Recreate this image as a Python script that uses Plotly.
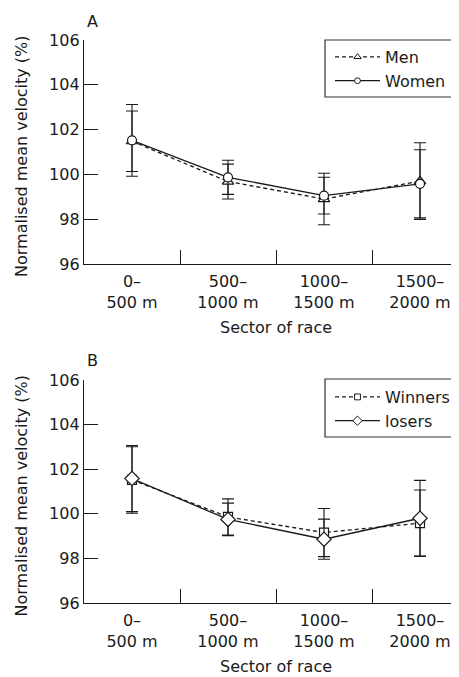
import plotly.graph_objects as go

categories = ["0–<br>500 m", "500–<br>1000 m", "1000–<br>1500 m", "1500–<br>2000 m"]
y_ticks = [96, 98, 100, 102, 104, 106]

men = [101.48, 99.68, 98.90, 99.70]
men_sd = [1.35, 0.78, 1.15, 1.71]
women = [101.52, 99.87, 99.05, 99.58]
women_sd = [1.60, 0.76, 0.82, 1.52]

winners = [101.52, 99.86, 99.16, 99.58]
winners_sd = [1.49, 0.81, 1.08, 1.49]
losers = [101.58, 99.75, 98.86, 99.80]
losers_sd = [1.48, 0.73, 0.90, 1.70]

FONT = "DejaVu Sans"
FS = 16
INK = "#1a1a1a"

OFF = 8  # page body margin
W, H = 459 - OFF, 677 - OFF
fig = go.Figure()


def add_series(name, vals, sd, symbol, dash, xa, ya, legend, msize):
    fig.add_trace(go.Scatter(
        x=categories, y=vals, mode="lines+markers", name=name,
        xaxis=xa, yaxis=ya, showlegend=False,
        line=dict(color=INK, width=1.3, dash=dash),
        marker=dict(symbol=symbol, size=msize, color="white",
                    line=dict(color=INK, width=1.2)),
        error_y=dict(type="data", array=sd, visible=True, color=INK,
                     thickness=1.1, width=6),
    ))
    fig.add_trace(go.Scatter(
        x=[None], y=[None], mode="lines+markers", name=name,
        xaxis=xa, yaxis=ya, showlegend=True, legend=legend,
        line=dict(color=INK, width=1.2, dash=dash),
        marker=dict(symbol=symbol, size=msize * 0.65, color="white",
                    line=dict(color=INK, width=1)),
    ))


add_series("Men", men, men_sd, "triangle-up", "4px,3px", "x", "y", "legend", 10)
add_series("Women", women, women_sd, "circle", "solid", "x", "y", "legend", 9)
add_series("Winners", winners, winners_sd, "square", "4px,3px", "x2", "y2", "legend2", 9)
add_series("losers", losers, losers_sd, "diamond", "solid", "x2", "y2", "legend2", 11)

# pixel geometry (reference window pixels, converted to figure pixels)
x_left = 84 - OFF
cat_w = 96
xr = [-0.5, -0.5 + (W - x_left) / cat_w]


def px(p):
    return (p - OFF) / W


def py(p):
    return 1 - (p - OFF) / H


panels = [(40, 264), (380, 603)]
for i, (top, bot) in enumerate(panels):
    sfx = "" if i == 0 else str(i + 1)
    fig.update_layout(**{
        "xaxis" + sfx: dict(
            domain=[x_left / W, 1], range=xr, type="category",
            tickson="boundaries", ticks="inside", ticklen=14, tickwidth=1.2,
            tickcolor=INK, showline=True, linecolor=INK, linewidth=1.3,
            showgrid=False, zeroline=False, anchor="y" + sfx,
            tickfont=dict(family=FONT, size=FS, color=INK),
            ticklabelstandoff=3,
        ),
        "yaxis" + sfx: dict(
            domain=[py(bot), py(top)], range=[96, 106], tickvals=y_ticks,
            ticks="inside", ticklen=14, tickwidth=1.2, tickcolor=INK,
            showline=True, linecolor=INK, linewidth=1.3, showgrid=False,
            zeroline=False, anchor="x" + sfx,
            tickfont=dict(family=FONT, size=FS, color=INK),
        ),
    })

leg_common = dict(
    xanchor="left", yanchor="top", bgcolor="rgba(0,0,0,0)",
    borderwidth=0, font=dict(family=FONT, size=FS, color=INK),
    itemwidth=45, tracegroupgap=0,
)
fig.update_layout(
    legend=dict(x=px(330), y=py(40), **leg_common),
    legend2=dict(x=px(330), y=py(380), **leg_common),
)

shapes = []
for top, bot in [(40, 97), (379, 437)]:
    shapes.append(dict(type="rect", xref="paper", yref="paper",
                       x0=px(325), x1=px(475), y0=py(bot), y1=py(top),
                       line=dict(color="#333", width=1.2),
                       fillcolor="white", layer="below"))

ann = []
for (top, bot), lab, ttl_y in [((40, 264), "A", 22), ((380, 603), "B", 360)]:
    ann.append(dict(text=lab, x=px(92), y=py(ttl_y), xref="paper", yref="paper",
                    showarrow=False, xanchor="center", yanchor="middle",
                    font=dict(family=FONT, size=FS, color=INK)))
    ann.append(dict(text="Normalised mean velocity (%)", x=px(21),
                    y=py((top + bot) / 2 + 4), xref="paper", yref="paper",
                    showarrow=False, textangle=-90, xanchor="center",
                    yanchor="middle", font=dict(family=FONT, size=FS, color=INK)))
    ann.append(dict(text="Sector of race", x=px(276), y=py(bot + 63),
                    xref="paper", yref="paper", showarrow=False,
                    xanchor="center", yanchor="middle",
                    font=dict(family=FONT, size=FS, color=INK)))

fig.update_layout(
    width=W, height=H, margin=dict(l=0, r=0, t=0, b=0, autoexpand=False),
    paper_bgcolor="white", plot_bgcolor="white", annotations=ann,
    shapes=shapes, font=dict(family=FONT, size=FS, color=INK),
)

fig.write_html("out.html")
